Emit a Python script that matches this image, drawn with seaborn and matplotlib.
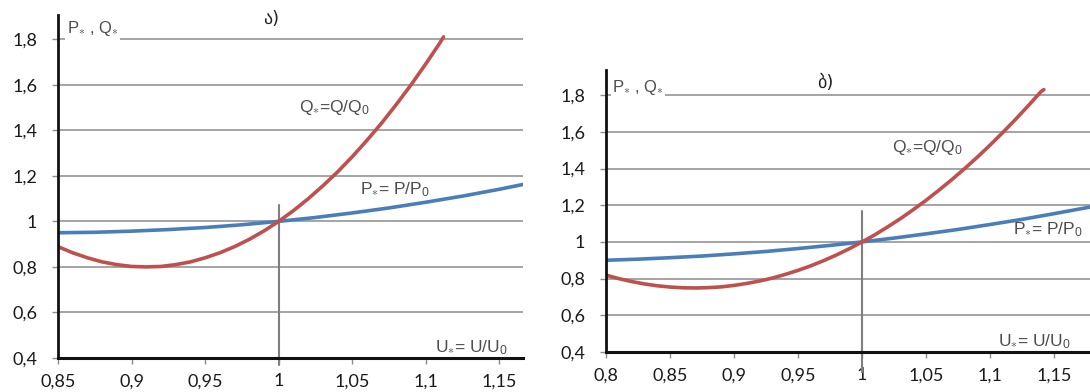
import numpy as np
import pandas as pd
import matplotlib
matplotlib.use("Agg")
import matplotlib.pyplot as plt
import seaborn as sns

# ---- panel ა) -------------------------------------------------------------
u_q_a = [0.85, 0.86, 0.87, 0.88, 0.89, 0.90, 0.91, 0.92, 0.93, 0.94, 0.95,
         0.96, 0.97, 0.98, 0.99, 1.00, 1.01, 1.02, 1.03, 1.04, 1.05, 1.06,
         1.07, 1.08, 1.09, 1.10, 1.11, 1.112]
q_a = [0.889, 0.862, 0.840, 0.822, 0.810, 0.802, 0.800, 0.802, 0.810, 0.822,
       0.840, 0.862, 0.889, 0.921, 0.958, 1.000, 1.047, 1.099, 1.156, 1.217,
       1.284, 1.356, 1.432, 1.514, 1.600, 1.692, 1.788, 1.81]
u_p_a = [0.85, 0.875, 0.90, 0.925, 0.95, 0.975, 1.00, 1.025, 1.05, 1.075,
         1.10, 1.125, 1.15, 1.166]
p_a = [0.95, 0.952, 0.957, 0.964, 0.973, 0.985, 1.00, 1.017, 1.037, 1.059,
       1.084, 1.111, 1.141, 1.162]
xticks_a = [0.85, 0.90, 0.95, 1.00, 1.05, 1.10, 1.15]
xlabels_a = ["0,85", "0,9", "0,95", "1", "1,05", "1,1", "1,15"]

# ---- panel ბ) -------------------------------------------------------------
u_q_b = [0.80, 0.81, 0.82, 0.83, 0.84, 0.85, 0.86, 0.87, 0.88, 0.89, 0.90,
         0.91, 0.92, 0.93, 0.94, 0.95, 0.96, 0.97, 0.98, 0.99, 1.00, 1.01,
         1.02, 1.03, 1.04, 1.05, 1.06, 1.07, 1.08, 1.09, 1.10, 1.11, 1.12,
         1.13, 1.14, 1.142]
q_b = [0.819, 0.800, 0.784, 0.771, 0.761, 0.754, 0.750, 0.749, 0.751, 0.755,
       0.763, 0.774, 0.787, 0.803, 0.823, 0.845, 0.870, 0.898, 0.929, 0.963,
       1.000, 1.039, 1.082, 1.127, 1.176, 1.227, 1.282, 1.339, 1.399, 1.462,
       1.528, 1.597, 1.669, 1.744, 1.821, 1.83]
u_p_b = [0.80, 0.825, 0.85, 0.875, 0.90, 0.925, 0.95, 0.975, 1.00, 1.025,
         1.05, 1.075, 1.10, 1.125, 1.15, 1.178]
p_b = [0.90, 0.906, 0.914, 0.923, 0.935, 0.948, 0.964, 0.981, 1.00, 1.021,
       1.044, 1.068, 1.095, 1.123, 1.154, 1.19]
xticks_b = [0.80, 0.85, 0.90, 0.95, 1.00, 1.05, 1.10, 1.15]
xlabels_b = ["0,8", "0,85", "0,9", "0,95", "1", "1,05", "1,1", "1,15"]

yticks = [0.4, 0.6, 0.8, 1.0, 1.2, 1.4, 1.6, 1.8]
ylabels = ["0,4", "0,6", "0,8", "1", "1,2", "1,4", "1,6", "1,8"]

RED = "#c0504d"
BLUE = "#4a7ebb"
GRID = "#8c8c8c"
LABEL = "#4d4d4d"

sns.set_theme(style="white")
plt.rcParams["font.family"] = ["Lato", "DejaVu Sans"]
plt.rcParams["mathtext.fontset"] = "custom"
plt.rcParams["mathtext.rm"] = "Liberation Sans"
plt.rcParams["mathtext.it"] = "Liberation Sans"
plt.rcParams["mathtext.bf"] = "Liberation Sans:bold"

fig = plt.figure(figsize=(10.9, 3.92), dpi=100)
ax_a = fig.add_axes([0.0532, 0.0867, 0.4266, 0.875])
ax_b = fig.add_axes([0.556, 0.102, 0.444, 0.719])


def style_axes(ax, xlim, ylim_top, xticks, xlabels):
    ax.set_xlim(*xlim)
    ax.set_ylim(0.4, ylim_top)
    ax.set_yticks(yticks)
    ax.set_yticklabels(ylabels)
    ax.set_xticks(xticks)
    ax.set_xticklabels(xlabels)
    for y in yticks[1:]:
        ax.axhline(y, color=GRID, lw=1.1, zorder=1)
    for side in ("top", "right"):
        ax.spines[side].set_visible(False)
    ax.spines["left"].set_color("#111111")
    ax.spines["left"].set_linewidth(2.0)
    ax.spines["bottom"].set_color("#111111")
    ax.spines["bottom"].set_linewidth(2.2)
    ax.spines["left"].set_zorder(5)
    ax.spines["bottom"].set_zorder(5)
    ax.tick_params(axis="y", which="both", left=True, length=4, width=1,
                   color=GRID, pad=11, labelsize=13, labelcolor="#1a1a1a")
    ax.tick_params(axis="x", which="both", bottom=True, length=4, width=1,
                   color=GRID, pad=7, labelsize=13, labelcolor="#1a1a1a")
    ax.set_xlabel("")
    ax.set_ylabel("")


def draw_curves(ax, uq, q, up, p):
    sns.lineplot(x=up, y=p, ax=ax, color=BLUE, linewidth=2.6, sort=False,
                 zorder=3)
    sns.lineplot(x=uq, y=q, ax=ax, color=RED, linewidth=2.6, sort=False,
                 zorder=4)


def draw_labels(ax, title, title_xy, pq_xy, q_xy, p_xy, u_xy):
    lab = dict(ha="left", va="center", color=LABEL, zorder=6,
               family="Liberation Sans")
    ax.text(*title_xy, title, ha="center", va="center", fontsize=13,
            color="#222222", family=["DejaVu Sans"])
    ax.text(*pq_xy, r"P$_{\ast}$ , Q$_{\ast}$", fontsize=12,
            bbox=dict(facecolor="white", edgecolor="none", pad=1.0), **lab)
    ax.text(*q_xy, r"Q$_{\ast}$=Q/Q$_0$", fontsize=12.5, **lab)
    ax.text(*p_xy, r"P$_{\ast}$= P/P$_0$", fontsize=12.5, **lab)
    ax.text(*u_xy, r"U$_{\ast}$= U/U$_0$", fontsize=12.5, **lab)


# panel ა)
style_axes(ax_a, (0.85, 1.166), 1.906, xticks_a, xlabels_a)
draw_curves(ax_a, u_q_a, q_a, u_p_a, p_a)
ax_a.plot([1.0, 1.0], [0.37, 1.074], color="#7f7f7f", lw=1.5, zorder=2,
          clip_on=False)
draw_labels(ax_a, "ა)", (0.995, 1.889), (0.856, 1.845), (1.014, 1.50),
            (1.055, 1.14), (1.106, 0.446))

# panel ბ)
style_axes(ax_b, (0.80, 1.178), 1.936, xticks_b, xlabels_b)
draw_curves(ax_b, u_q_b, q_b, u_p_b, p_b)
ax_b.plot([1.0, 1.0], [0.29, 1.168], color="#7f7f7f", lw=1.5, zorder=2,
          clip_on=False)
draw_labels(ax_b, "ბ)", (0.971, 1.866), (0.805, 1.844), (1.023, 1.517),
            (1.118, 1.065), (1.106, 0.456))

fig.savefig("out.png", dpi=100)
